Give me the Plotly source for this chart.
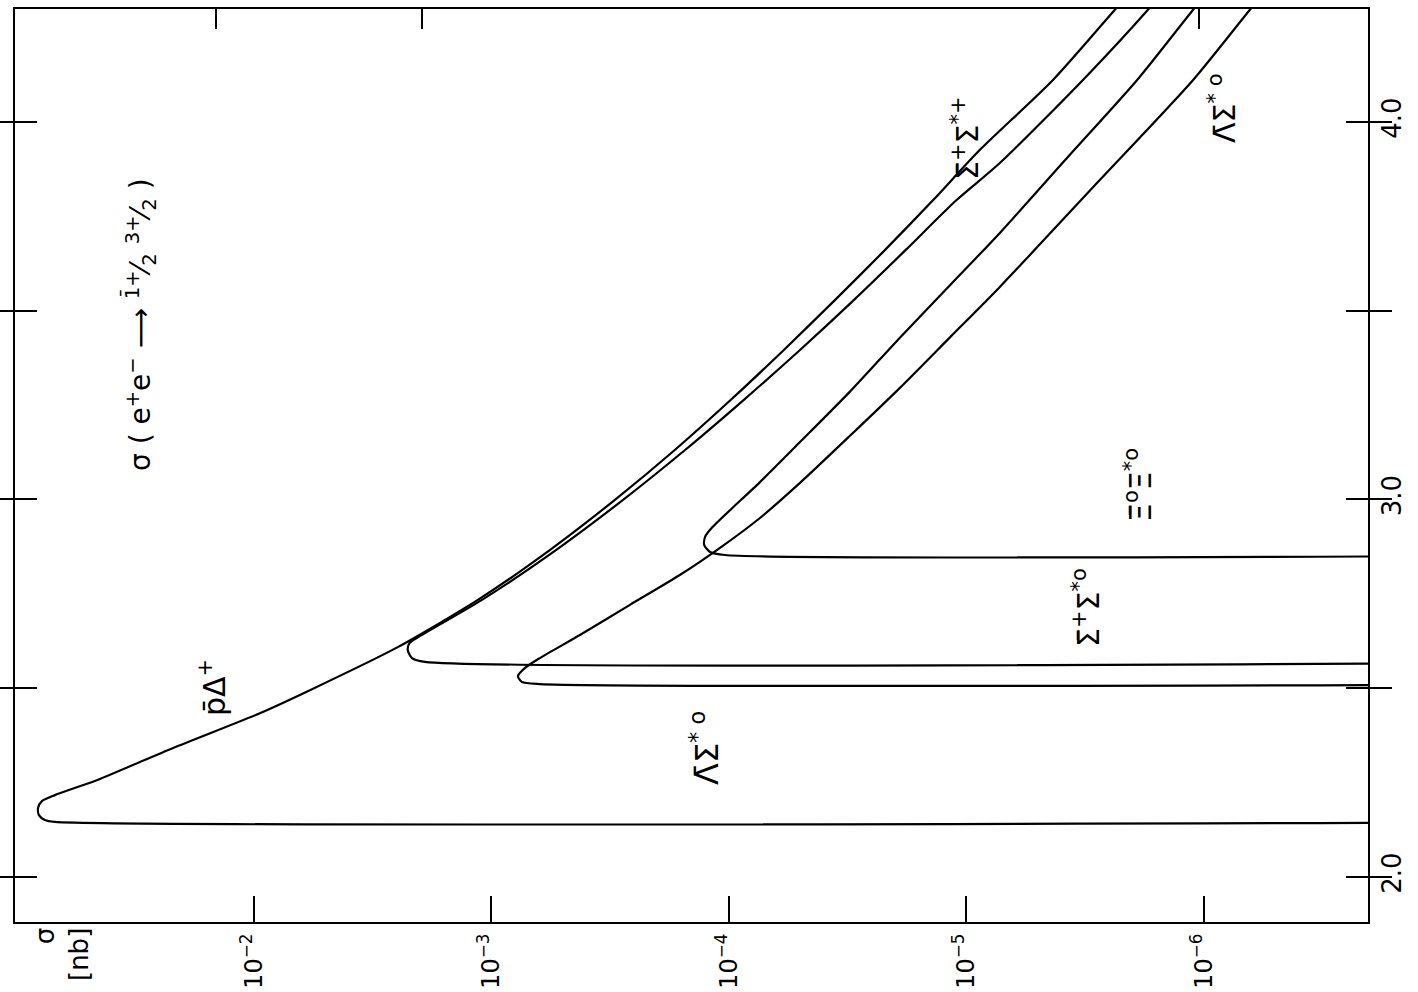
import plotly.graph_objects as go

# ---- data (energy in GeV, cross section in nb) ----
E_pDelta = [2.146, 2.146, 2.151, 2.164, 2.183, 2.201, 2.217, 2.260, 2.342, 2.434, 2.495,
            2.609, 2.734, 2.866, 2.999, 3.131, 3.264, 3.396, 3.528, 3.661, 3.793, 3.926,
            4.111, 4.297, 4.350]
S_pDelta = [1e-8, 0.0689, 0.0759, 0.0804, 0.0811, 0.0781, 0.0689, 0.0445, 0.0219, 0.00944,
            0.00581, 0.00248, 0.00114, 5.68e-4, 3.02e-4, 1.69e-4, 9.81e-5, 5.87e-5, 3.58e-5,
            2.20e-5, 1.38e-5, 8.77e-6, 4.32e-6, 2.37e-6, 1.99e-6]

E_SigSig = [2.570, 2.570, 2.580, 2.601, 2.620, 2.638, 2.734, 2.866, 2.999, 3.131, 3.264,
            3.396, 3.528, 3.661, 3.793, 3.891, 4.111, 4.297, 4.350]
S_SigSig = [1e-8, 1.905e-3, 2.16e-3, 2.25e-3, 2.21e-3, 2.00e-3, 1.096e-3, 5.35e-4, 2.79e-4,
            1.53e-4, 8.65e-5, 5.02e-5, 2.98e-5, 1.80e-5, 1.10e-5, 7.23e-6, 3.23e-6, 1.72e-6,
            1.46e-6]

E_LamSig = [2.511, 2.511, 2.517, 2.532, 2.554, 2.580, 2.641, 2.721, 2.800, 2.872, 2.951,
            3.044, 3.168, 3.295, 3.430, 3.563, 3.838, 4.111, 4.297, 4.350]
S_LamSig = [1e-8, 6.25e-4, 7.45e-4, 7.73e-4, 7.22e-4, 6.25e-4, 4.24e-4, 2.61e-4, 1.61e-4,
            1.09e-4, 7.40e-5, 5.02e-5, 3.10e-5, 1.91e-5, 1.17e-5, 7.23e-6, 2.82e-6, 1.11e-6,
            6.40e-7, 5.43e-7]

E_XiXi = [2.853, 2.853, 2.861, 2.879, 2.901, 2.925, 3.046, 3.152, 3.285, 3.428, 3.568,
          3.706, 3.907, 4.111, 4.297, 4.350]
S_XiXi = [1e-8, 1.04e-4, 1.20e-4, 1.27e-4, 1.26e-4, 1.18e-4, 7.40e-5, 5.02e-5, 3.10e-5,
          1.91e-5, 1.17e-5, 7.23e-6, 3.74e-6, 1.91e-6, 1.11e-6, 9.44e-7]

sigma_ticks = [1e-2, 1e-3, 1e-4, 1e-5, 1e-6]
sigma_ticktext = ["10<sup>−2</sup>", "10<sup>−3</sup>", "10<sup>−4</sup>",
                  "10<sup>−5</sup>", "10<sup>−6</sup>"]
energy_ticks = [2.0, 2.5, 3.0, 3.5, 4.0]
energy_ticktext = ["2.0", "", "3.0", "", "4.0"]
top_ticks = [10 ** -1.84, 10 ** -2.707, 10 ** -5.98]

FONT = "DejaVu Sans, sans-serif"

fig = go.Figure()
for E, S in [(E_pDelta, S_pDelta), (E_SigSig, S_SigSig), (E_LamSig, S_LamSig), (E_XiXi, S_XiXi)]:
    fig.add_trace(go.Scatter(x=S, y=E, mode="lines",
                             line=dict(color="black", width=2.2, shape="spline", smoothing=0.7),
                             showlegend=False, hoverinfo="skip"))
# helper trace so the top tick axis is drawn
fig.add_trace(go.Scatter(x=[1e-3], y=[3.0], xaxis="x2", mode="markers",
                         marker=dict(opacity=0), showlegend=False, hoverinfo="skip"))

fig.update_layout(
    width=1418, height=992,
    margin=dict(l=15, r=50, t=9, b=70),
    paper_bgcolor="white", plot_bgcolor="white",
    font=dict(family=FONT, color="black", size=28),
    xaxis=dict(type="log", range=[-0.994, -6.691], tickvals=sigma_ticks,
               ticktext=sigma_ticktext, tickangle=-90, ticks="inside", ticklen=26,
               tickwidth=1.5, tickcolor="black", showline=True, linewidth=2,
               linecolor="black", mirror=True, showgrid=False, zeroline=False,
               tickfont=dict(size=24, family=FONT), automargin=False),
    xaxis2=dict(type="log", range=[-0.994, -6.691], overlaying="x", side="top",
                tickvals=top_ticks, showticklabels=False, ticks="inside", ticklen=20,
                tickwidth=1.5, tickcolor="black", showgrid=False, zeroline=False,
                showline=False, automargin=False),
    yaxis=dict(range=[1.881, 4.299], side="right", tickvals=energy_ticks,
               ticktext=energy_ticktext, tickangle=-90, ticks="inside", ticklen=22,
               tickwidth=1.5, tickcolor="black", showline=True, linewidth=2,
               linecolor="black", mirror="allticks", showgrid=False, zeroline=False,
               tickfont=dict(size=26, family=FONT), automargin=False),
)

def pos(px, py):
    return (px - 15) / (1368 - 15), (922 - py) / (922 - 9)

labels = [
    ("σ ( e<sup>+</sup>e<sup>−</sup> ⟶ <sup>1\u0304+</sup>⁄<sub>2</sub> <sup>3+</sup>⁄<sub>2</sub> )", 140, 325, 28),
    ("p\u0304Δ<sup>+</sup>", 212, 688, 30),
    ("Λ\u0304Σ<sup>* o</sup>", 705, 748, 32),
    ("Σ\u0304<sup>+</sup>Σ<sup>*o</sup>", 1086, 608, 30),
    ("Ξ\u0304<sup>o</sup>Ξ<sup>*o</sup>", 1138, 485, 30),
    ("Σ\u0304<sup>+</sup>Σ<sup>*+</sup>", 965, 138, 30),
    ("Λ\u0304Σ<sup>* o</sup>", 1222, 108, 30),
]
for txt, px, py, sz in labels:
    xp, yp = pos(px, py)
    fig.add_annotation(text=txt, x=xp, y=yp, xref="paper", yref="paper",
                       showarrow=False, textangle=-90, font=dict(size=sz, family=FONT),
                       xanchor="center", yanchor="middle")

# axis title "σ [nb]"
fig.add_annotation(text="σ<br>[nb]", x=(62 - 15) / 1353, y=(922 - 955) / 913,
                   xref="paper", yref="paper", showarrow=False, textangle=-90,
                   align="right", font=dict(size=26, family=FONT),
                   xanchor="center", yanchor="middle")

fig.write_html("out.html", config={"displayModeBar": False},
               post_script="document.body.style.margin='0';")
